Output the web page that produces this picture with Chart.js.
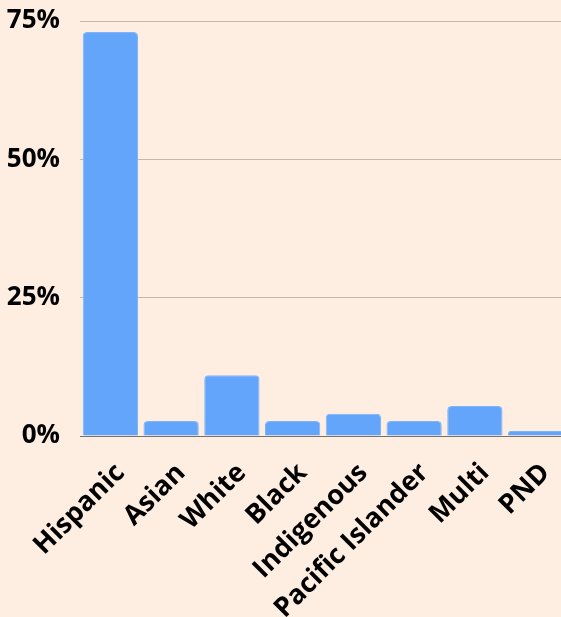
<!DOCTYPE html>
<html>
<head>
<meta charset="utf-8">
<script src="https://cdn.jsdelivr.net/npm/chart.js@4"></script>
<style>
    html, body { margin: 0; padding: 0; background: #fdeee1; overflow: hidden; }
    #wrap { width: 566px; height: 617px; }
</style>
</head>
<body>
<div id="wrap"><canvas id="raceChart"></canvas></div>
<script>
// Share of respondents by group (percent)
const categories = ["Hispanic", "Asian", "White", "Black", "Indigenous", "Pacific Islander", "Multi", "PND"];
const shares = [73.0, 2.7, 11.0, 2.7, 4.0, 2.7, 5.4, 0.9];
const yTicks = [0, 25, 50, 75];

const ctx = document.getElementById('raceChart').getContext('2d');

new Chart(ctx, {
    type: 'bar',
    data: {
        labels: categories,
        datasets: [{
            data: shares,
            backgroundColor: '#64a5fc',
            borderColor: '#7fb4fa',
            borderWidth: 1,
            borderRadius: 4,
            borderSkipped: 'bottom',
            categoryPercentage: 1,
            barPercentage: 0.91
        }]
    },
    options: {
        responsive: true,
        maintainAspectRatio: false,
        animation: false,
        layout: { padding: { top: 21, right: 0, left: 0, bottom: 0 } },
        plugins: { legend: { display: false }, tooltip: { enabled: false } },
        scales: {
            x: {
                grid: { display: false, drawTicks: false },
                border: { display: true, color: '#7a7068', width: 1 },
                ticks: {
                    color: '#000',
                    minRotation: 45,
                    maxRotation: 45,
                    padding: 21,
                    labelOffset: 10,
                    font: { family: 'Open Sans', weight: 'bold', size: 27 }
                },
                // keep the label block fixed so the plot sits where the original does
                afterFit: axis => {
                    axis.height = 181;
                    axis.paddingLeft = 0;
                    axis.paddingRight = 0;
                }
            },
            y: {
                min: 0,
                max: 75,
                afterBuildTicks: axis => { axis.ticks = yTicks.map(v => ({ value: v })); },
                grid: { color: '#c9b7a6', drawTicks: false, lineWidth: 1 },
                border: { display: false },
                ticks: {
                    color: '#000',
                    padding: 20,
                    callback: v => v + '%',
                    font: { family: 'Open Sans', weight: 'bold', size: 26 }
                },
                afterFit: axis => {
                    axis.width = 80;
                    axis.paddingTop = 0;
                    axis.paddingBottom = 0;
                }
            }
        }
    }
});
</script>
</body>
</html>
